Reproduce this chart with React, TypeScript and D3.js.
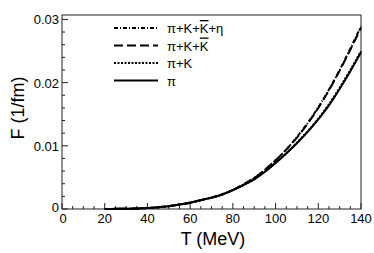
import React, { useEffect, useRef } from 'react';
import * as d3 from 'd3';

// temperature grid (MeV)
const temps = [20, 25, 30, 35, 40, 45, 50, 55, 60, 65, 70, 75, 80, 85, 90, 95, 100, 105, 110, 115, 120, 125, 130, 135, 140];

// F (1/fm)
const fPi = [0, 0.00002, 0.00004, 0.00008, 0.00015, 0.00028, 0.00045, 0.0007, 0.001, 0.0014, 0.0018, 0.0023, 0.003, 0.0038, 0.0047, 0.0059, 0.0073, 0.0088, 0.0104, 0.0122, 0.0142, 0.0164, 0.019, 0.0218, 0.0248];
const fPiK = [0, 0.00002, 0.00004, 0.00008, 0.00015, 0.00028, 0.00045, 0.0007, 0.001, 0.0014, 0.0018, 0.0023, 0.003, 0.0038, 0.0047, 0.0059, 0.0073, 0.0088, 0.0105, 0.0123, 0.0143, 0.0166, 0.0192, 0.022, 0.025];
const fPiKKbar = [0, 0.00002, 0.00004, 0.00008, 0.00015, 0.00028, 0.00045, 0.0007, 0.001, 0.0014, 0.0018, 0.0023, 0.003, 0.0039, 0.0049, 0.0062, 0.0077, 0.0094, 0.0113, 0.0135, 0.016, 0.0188, 0.0219, 0.0252, 0.0287];
const fPiKKbarEta = [0, 0.00002, 0.00004, 0.00008, 0.00015, 0.00028, 0.00045, 0.0007, 0.001, 0.0014, 0.0018, 0.0023, 0.003, 0.0039, 0.0049, 0.0062, 0.0077, 0.0094, 0.0114, 0.0136, 0.0161, 0.0189, 0.022, 0.0254, 0.0289];

const xTicks = [0, 20, 40, 60, 80, 100, 120, 140];
const yTicks = [0, 0.01, 0.02, 0.03];
const yTickLabels = ['0', '0.01', '0.02', '0.03'];

const legendItems = [
  { parts: [['π+K+', ''], ['K', 'overline'], ['+η', '']], dash: '4,2,1,2', values: fPiKKbarEta },
  { parts: [['π+K+', ''], ['K', 'overline']], dash: '9,4', values: fPiKKbar },
  { parts: [['π+K', '']], dash: '2,1.5', values: fPiK },
  { parts: [['π', '']], dash: null, values: fPi },
];

const W = 374, H = 253;
const margin = { left: 62, right: 13, top: 15, bottom: 44 };

const App = () => {
  const ref = useRef<SVGSVGElement>(null);

  useEffect(() => {
    const svg = d3.select(ref.current);
    svg.selectAll('*').remove();

    const x = d3.scaleLinear().domain([0, 140]).range([margin.left, W - margin.right]);
    const y = d3.scaleLinear().domain([0, 0.0307]).range([H - margin.bottom, margin.top]);
    const font = '"Liberation Sans", Arial, sans-serif';

    // frame
    svg.append('rect')
      .attr('x', x(0)).attr('y', y(0.0307))
      .attr('width', x(140) - x(0)).attr('height', y(0) - y(0.0307))
      .attr('fill', 'white').attr('stroke', '#222').attr('stroke-width', 1);

    // x ticks
    const xMinor = d3.range(0, 141, 5);
    svg.append('g').selectAll('line').data(xMinor).join('line')
      .attr('x1', d => x(d)).attr('x2', d => x(d))
      .attr('y1', y(0)).attr('y2', d => y(0) - (d % 20 === 0 ? 6 : 3))
      .attr('stroke', '#222');
    svg.append('g').selectAll('text').data(xTicks).join('text')
      .attr('x', d => x(d) + (d === 0 ? 1 : 0)).attr('y', y(0) + 14)
      .attr('text-anchor', 'middle')
      .attr('font-family', font).attr('font-size', 13)
      .text(d => d);

    // y ticks
    const yMinor = d3.range(0, 16).map(i => i * 0.002);
    svg.append('g').selectAll('line').data(yMinor).join('line')
      .attr('y1', d => y(d)).attr('y2', d => y(d))
      .attr('x1', x(0)).attr('x2', (d, i) => x(0) + (i % 5 === 0 ? 6 : 3))
      .attr('stroke', '#222');
    svg.append('g').selectAll('text').data(yTicks).join('text')
      .attr('x', x(0) - 3).attr('y', d => y(d) + 5 - (d === 0 ? 2 : 0))
      .attr('text-anchor', 'end')
      .attr('font-family', font).attr('font-size', 13)
      .text((d, i) => yTickLabels[i]);

    // axis titles
    svg.append('text')
      .attr('x', 213).attr('y', 245)
      .attr('text-anchor', 'middle')
      .attr('font-family', font).attr('font-size', 18)
      .text('T (MeV)');
    svg.append('text')
      .attr('transform', 'translate(24, 108) rotate(-90)')
      .attr('text-anchor', 'middle')
      .attr('font-family', font).attr('font-size', 18)
      .text('F (1/fm)');

    // curves
    const line = d3.line<number>()
      .x((d, i) => x(temps[i]))
      .y(d => y(d))
      .curve(d3.curveMonotoneX);

    svg.append('g').selectAll('path').data(legendItems).join('path')
      .attr('d', d => line(d.values))
      .attr('fill', 'none')
      .attr('stroke', 'black')
      .attr('stroke-width', 2)
      .attr('stroke-dasharray', d => d.dash);

    // legend
    const leg = svg.append('g').selectAll('g').data(legendItems).join('g')
      .attr('transform', (d, i) => `translate(114, ${28 + i * 17.5})`);
    leg.append('line')
      .attr('x1', 0).attr('x2', 44).attr('y1', 0).attr('y2', 0)
      .attr('stroke', 'black')
      .attr('stroke-width', 2)
      .attr('stroke-dasharray', d => d.dash);
    const txt = leg.append('text')
      .attr('x', 53).attr('y', 5)
      .attr('font-family', font).attr('font-size', 13);
    txt.selectAll('tspan').data(d => d.parts).join('tspan')
      .attr('text-decoration', p => p[1] || null)
      .text(p => p[0]);
  }, []);

  return (
    <svg ref={ref} width={W} height={H}
      style={{ position: 'absolute', top: 0, left: 0, background: 'white' }} />
  );
};

export default App;
